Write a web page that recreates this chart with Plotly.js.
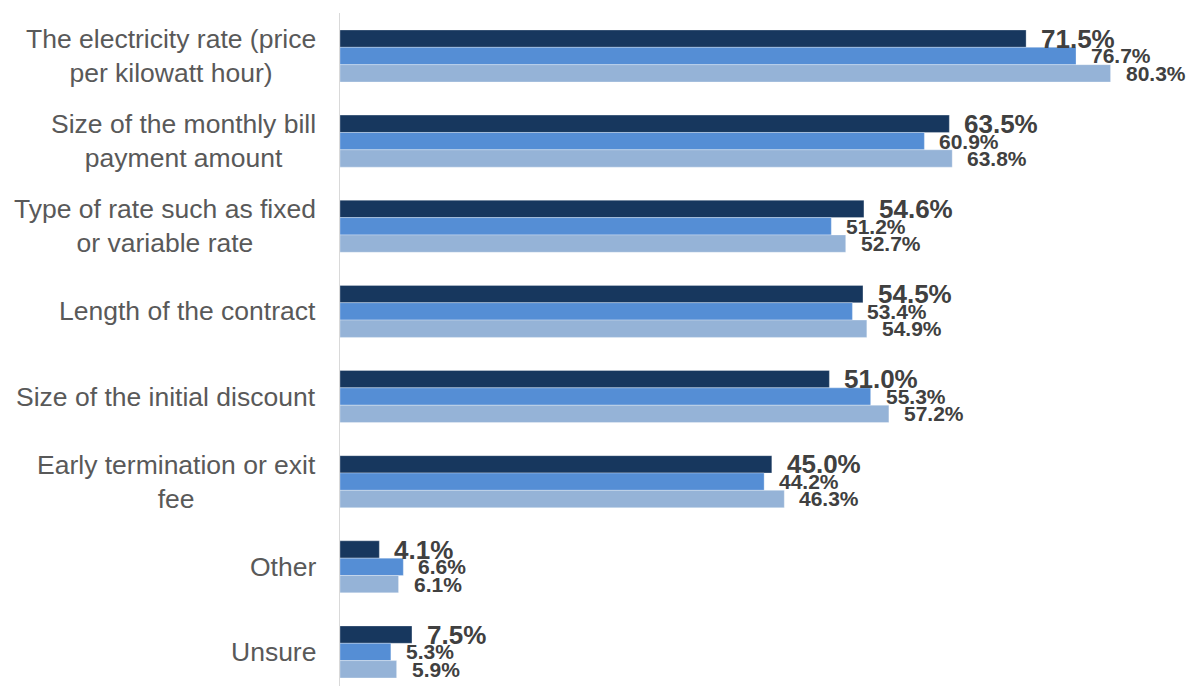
<!DOCTYPE html>
<html>
<head>
<meta charset="utf-8">
<script src="https://cdn.plot.ly/plotly-3.0.1.min.js"></script>
<style>html,body{margin:0;padding:0;background:#fff;}#chart{width:1195px;height:686px;}</style>
</head>
<body>
<div id="chart"></div>
<script>
const categories = [
  "The electricity rate (price<br>per kilowatt hour)",
  "Size of the monthly bill<br>payment amount",
  "Type of rate such as fixed<br>or variable rate",
  "Length of the contract",
  "Size of the initial discount",
  "Early termination or exit<br>fee",
  "Other",
  "Unsure"
];
const series1 = [71.5, 63.5, 54.6, 54.5, 51.0, 45.0, 4.1, 7.5];
const series2 = [76.7, 60.9, 51.2, 53.4, 55.3, 44.2, 6.6, 5.3];
const series3 = [80.3, 63.8, 52.7, 54.9, 57.2, 46.3, 6.1, 5.9];
const seriesNames = ["Series 1", "Series 2", "Series 3"];
const colors = ["#17375E", "#558ED5", "#95B3D7"];

const allSeries = [series1, series2, series3];
const catIdx = categories.map((c, i) => i);

const traces = allSeries.map((vals, s) => ({
  type: "bar",
  orientation: "h",
  name: seriesNames[s],
  x: vals,
  y: catIdx,
  marker: {color: colors[s], line: {color: "rgba(255,255,255,0.5)", width: 0.6}},
  hoverinfo: "x+name"
}));

const annotations = [];
// category labels (centered multi-line)
categories.forEach((c, i) => {
  annotations.push({
    xref: "paper", yref: "y", x: 0, y: i,
    xanchor: "right", yanchor: "middle", xshift: -22,
    text: c, align: "center", showarrow: false,
    font: {family: "Liberation Sans, Arial, sans-serif", size: 26.5, color: "#595959"}
  });
});
// value labels
const labelSizes = [26, 21, 21];
const yShifts = [17.3, 0, -17.3];
allSeries.forEach((vals, s) => {
  vals.forEach((v, i) => {
    annotations.push({
      xref: "x", yref: "y", x: v, y: i,
      xanchor: "left", yanchor: "middle", xshift: 13, yshift: yShifts[s],
      text: "<b>" + v.toFixed(1) + "%</b>", showarrow: false,
      font: {family: "Liberation Sans, Arial, sans-serif", size: labelSizes[s], color: "#404040"}
    });
  });
});

const layout = {
  width: 1195, height: 686,
  margin: {l: 340, r: 0, t: 13, b: 0},
  paper_bgcolor: "#ffffff", plot_bgcolor: "#ffffff",
  barmode: "group", bargap: 0.389, bargroupgap: 0,
  showlegend: false,
  xaxis: {range: [0, 89.1], visible: false, showgrid: false, zeroline: false},
  yaxis: {
    type: "linear", range: [7.4, -0.505], showticklabels: false, ticks: "",
    showgrid: false, zeroline: false, showline: true, linecolor: "#D9D9D9", linewidth: 1.5
  },
  annotations: annotations,
  font: {family: "Liberation Sans, Arial, sans-serif"}
};

Plotly.newPlot("chart", traces, layout, {displayModeBar: false, staticPlot: true});
</script>
</body>
</html>
